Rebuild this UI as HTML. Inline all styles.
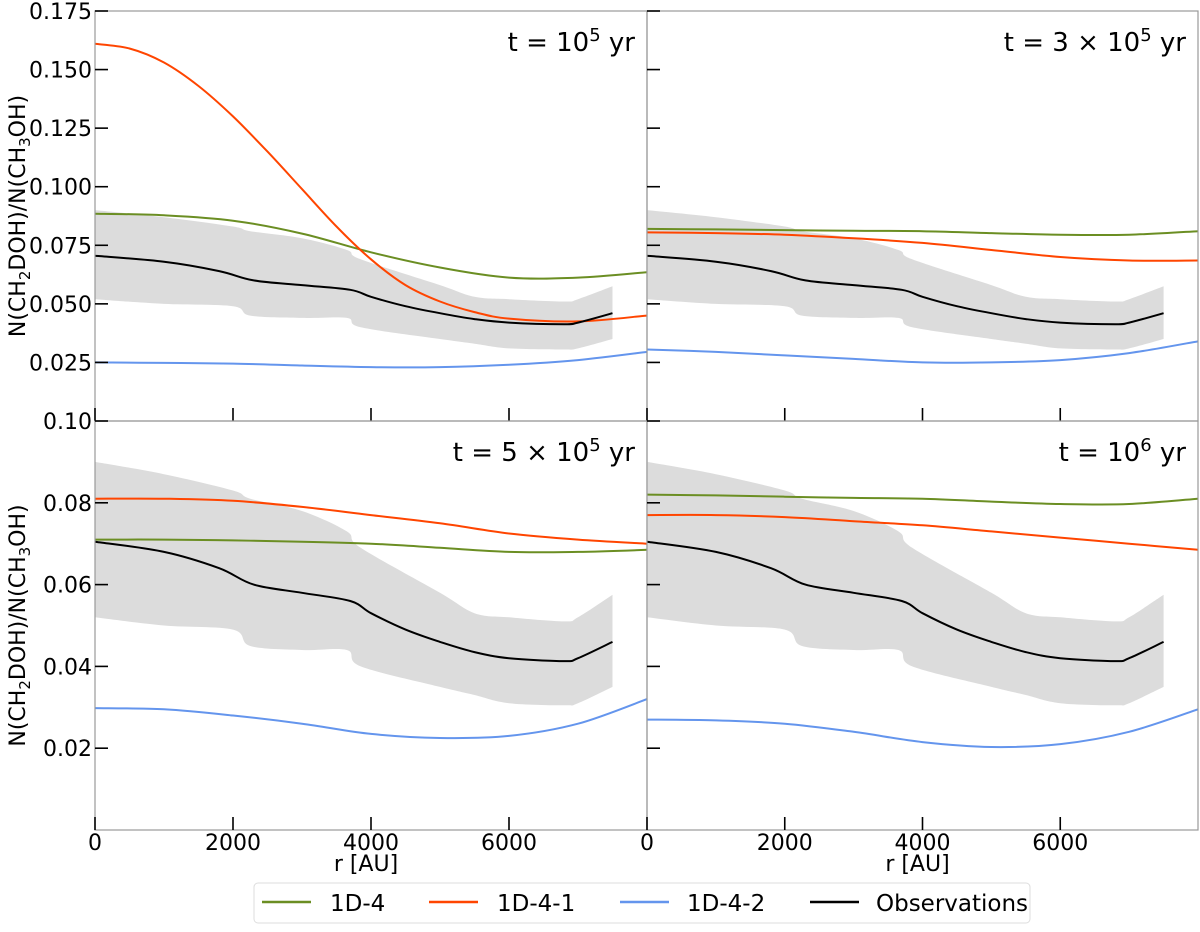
<!DOCTYPE html>
<html><head><meta charset="utf-8"><style>
body{margin:0;background:#fff;}
svg text{font-family:"DejaVu Sans","Liberation Sans",sans-serif;fill:#000;}
</style></head><body>
<svg id="chart" width="1200" height="927" xmlns="http://www.w3.org/2000/svg"></svg>
<script>
const obsR=[0,1000,1800,2300,3000,3700,4000,4500,5000,5500,6000,6800,7000,7500];
const obsV=[0.0705,0.068,0.064,0.060,0.058,0.056,0.053,0.049,0.046,0.0435,0.042,0.0413,0.042,0.046];
const bandR=[0,1000,2000,2250,3000,3650,3850,5000,5500,6000,6800,7000,7500];
const bandHi=[0.090,0.087,0.083,0.081,0.078,0.073,0.069,0.058,0.053,0.052,0.051,0.052,0.0575];
const bandLo=[0.052,0.050,0.049,0.045,0.044,0.044,0.040,0.035,0.033,0.031,0.0305,0.031,0.035];
const modR=[0,1000,2000,3000,4000,5000,6000,7000,8000];
const p1RedR=[0,500,1000,1500,2000,2500,3000,3500,4000,4500,5000,5500,6000,7000,8000];
const p1Red=[0.161,0.159,0.153,0.143,0.130,0.115,0.099,0.083,0.069,0.058,0.051,0.0465,0.0437,0.0425,0.045];
const p1Green=[0.0885,0.0878,0.0855,0.080,0.072,0.0655,0.0612,0.0612,0.0635];
const p1Blue=[0.025,0.0248,0.0245,0.0237,0.023,0.023,0.024,0.026,0.0295];
const p2Green=[0.082,0.0818,0.0815,0.0812,0.081,0.0802,0.0795,0.0795,0.081];
const p2Red=[0.0805,0.0802,0.0795,0.078,0.076,0.073,0.070,0.0685,0.0685];
const p2Blue=[0.0305,0.0295,0.028,0.0265,0.025,0.025,0.026,0.029,0.034];
const p3Green=[0.071,0.071,0.0708,0.0705,0.070,0.069,0.068,0.068,0.0685];
const p3Red=[0.081,0.081,0.0805,0.079,0.077,0.075,0.0725,0.071,0.070];
const p3Blue=[0.0298,0.0295,0.028,0.026,0.0235,0.0225,0.023,0.026,0.032];
const p4Green=[0.082,0.0818,0.0815,0.0812,0.081,0.0803,0.0797,0.0797,0.081];
const p4Red=[0.077,0.077,0.0765,0.0755,0.0745,0.073,0.0715,0.070,0.0685];
const p4Blue=[0.027,0.0268,0.026,0.024,0.0215,0.0203,0.021,0.024,0.0295];
const topTicks=[0.025,0.050,0.075,0.100,0.125,0.150,0.175];
const topTickLabels=["0.025","0.050","0.075","0.100","0.125","0.150","0.175"];
const botTicks=[0.02,0.04,0.06,0.08,0.10];
const botTickLabels=["0.02","0.04","0.06","0.08","0.10"];
const xTicks=[0,2000,4000,6000];
const xTickLabels=["0","2000","4000","6000"];

const NS="http://www.w3.org/2000/svg";
const svg=document.getElementById('chart');
function mk(tag,attrs,parent){const e=document.createElementNS(NS,tag);for(const k in attrs)e.setAttribute(k,attrs[k]);(parent||svg).appendChild(e);return e;}
const colors={g:"#6b8e23",r:"#ff4500",b:"#6495ed",k:"#000"};
const panels=[
 {x0:95,x1:647,y0:11,y1:421,ymax:0.175,g:p1Green,r:p1Red,rr:p1RedR,b:p1Blue,title:["t = 10","5"," yr"],left:true,bottom:false,name:"panel-t1e5"},
 {x0:647,x1:1198,y0:11,y1:421,ymax:0.175,g:p2Green,r:p2Red,rr:modR,b:p2Blue,title:["t = 3 × 10","5"," yr"],left:false,bottom:false,name:"panel-t3e5"},
 {x0:95,x1:647,y0:421,y1:830,ymax:0.10,g:p3Green,r:p3Red,rr:modR,b:p3Blue,title:["t = 5 × 10","5"," yr"],left:true,bottom:true,name:"panel-t5e5"},
 {x0:647,x1:1198,y0:421,y1:830,ymax:0.10,g:p4Green,r:p4Red,rr:modR,b:p4Blue,title:["t = 10","6"," yr"],left:false,bottom:true,name:"panel-t1e6"}
];
function smooth(pts){
 let d="M"+pts[0][0].toFixed(1)+","+pts[0][1].toFixed(1);
 for(let i=0;i<pts.length-1;i++){
  const p0=pts[Math.max(0,i-1)],p1=pts[i],p2=pts[i+1],p3=pts[Math.min(pts.length-1,i+2)];
  const c1=[p1[0]+(p2[0]-p0[0])/6,p1[1]+(p2[1]-p0[1])/6],c2=[p2[0]-(p3[0]-p1[0])/6,p2[1]-(p3[1]-p1[1])/6];
  d+=" C"+c1.map(v=>v.toFixed(1))+" "+c2.map(v=>v.toFixed(1))+" "+p2.map(v=>v.toFixed(1));
 }
 return d;
}
panels.forEach(p=>{
 const g=mk('g',{});
 
 
 const X=v=>p.x0+(v/8000)*(p.x1-p.x0);
 const Y=v=>p.y1-(v/p.ymax)*(p.y1-p.y0);
 const cp=mk('clipPath',{id:'c'+p.name},g);mk('rect',{x:p.x0,y:p.y0,width:p.x1-p.x0,height:p.y1-p.y0},cp);
 const hi=bandR.map((r,i)=>[X(r),Y(bandHi[i])]),lo=bandR.map((r,i)=>[X(r),Y(bandLo[i])]).reverse();
 const band=mk('path',{d:smooth(hi)+" L"+smooth(lo).slice(1)+" Z",fill:"#dcdcdc",stroke:"none","clip-path":`url(#c${p.name})`},g);
 
 
 [["g",modR,p.g,"line-1d-4"],["r",p.rr,p.r,"line-1d-4-1"],["b",modR,p.b,"line-1d-4-2"]].forEach(s=>{
  const l=mk('path',{d:smooth(s[1].map((r,i)=>[X(r),Y(s[2][i])])),fill:"none",stroke:colors[s[0]],"stroke-width":2,"clip-path":`url(#c${p.name})`},g);
  
  
 });
 const ob=mk('path',{d:smooth(obsR.map((r,i)=>[X(r),Y(obsV[i])])),fill:"none",stroke:"#000","stroke-width":2},g);
 
 
 mk('rect',{x:p.x0,y:p.y0,width:p.x1-p.x0,height:p.y1-p.y0,fill:"none",stroke:"#999","stroke-width":1.2},g);
 const yt=p.ymax>0.15?topTicks:botTicks,ytl=p.ymax>0.15?topTickLabels:botTickLabels;
 yt.forEach((v,i)=>{
  mk('line',{x1:p.x0,x2:p.x0+13,y1:Y(v),y2:Y(v),stroke:"#000","stroke-width":1.6},g);
  if(p.left){const t=mk('text',{x:p.x0-3,y:Y(v)+8,"text-anchor":"end","font-size":22},g);t.textContent=ytl[i];
   }
 });
 xTicks.forEach((v,i)=>{
  mk('line',{x1:X(v),x2:X(v),y1:p.y1,y2:p.y1-13,stroke:"#000","stroke-width":1.6},g);
  if(p.bottom){const t=mk('text',{x:X(v),y:p.y1+20,"text-anchor":"middle","font-size":22},g);t.textContent=xTickLabels[i];
   }
 });
 const tt=mk('text',{x:p.x1-12,y:p.y0+40,"text-anchor":"end","font-size":26},g);
 
 
 const a=mk('tspan',{},tt);a.textContent=p.title[0];
 const b=mk('tspan',{dy:-10,"font-size":18},tt);b.textContent=p.title[1];
 const c=mk('tspan',{dy:10},tt);c.textContent=p.title[2];
 if(p.bottom){const t=mk('text',{x:(p.x0+p.x1)/2-5,y:p.y1+41,"text-anchor":"middle","font-size":22},g);t.textContent="r [AU]";
  }
 if(p.left){const cy=(p.y0+p.y1)/2;
  const t=mk('text',{x:0,y:0,"text-anchor":"middle","font-size":22,transform:`translate(25,${cy}) rotate(-90)`},g);
  
  const parts=[["N(CH",0],["2",1],["DOH)/N(CH",0],["3",1],["OH)",0]];
  parts.forEach((pt,i)=>{const s=mk('tspan',pt[1]?{"font-size":15,dy:5}:(i>0?{dy:-5}:{}),t);s.textContent=pt[0];});
 }
});
const lg=mk('g',{});


mk('rect',{x:254,y:883,width:776,height:40,rx:4,fill:"#fff",stroke:"#ddd"},lg);
[[262,330,"g","1D-4"],[429,497,"r","1D-4-1"],[620,687,"b","1D-4-2"],[810,876,"k","Observations"]].forEach(e=>{
 const eg=mk('g',{},lg);
 
 
 mk('line',{x1:e[0],x2:e[0]+49,y1:902,y2:902,stroke:colors[e[2]],"stroke-width":2.5},eg);
 const t=mk('text',{x:e[1],y:911,"font-size":23},eg);t.textContent=e[3];
});
</script>
</body></html>
